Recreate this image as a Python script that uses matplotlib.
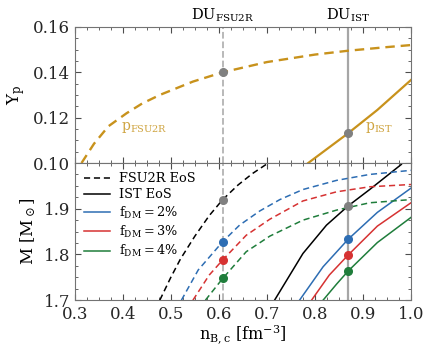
"""Proton fraction and NS mass vs central baryon density, FSU2R vs IST EoS with DM fractions."""

import matplotlib

matplotlib.use("Agg")
import matplotlib.pyplot as plt
from matplotlib.ticker import AutoMinorLocator, MultipleLocator

plt.rcParams["font.family"] = ["DejaVu Serif"]
plt.rcParams["mathtext.fontset"] = "dejavuserif"

# DU thresholds (central density)
du_fsu2r = 0.608
du_ist = 0.869

# top panel: proton fraction
n_yp_fsu2r = [0.314, 0.34, 0.37, 0.4075, 0.44, 0.477, 0.546, 0.608, 0.70, 0.80, 0.869, 0.95, 1.0]
yp_fsu2r = [0.100, 0.1085, 0.1162, 0.1219, 0.1262, 0.130, 0.1359, 0.140, 0.1445, 0.1478, 0.1495, 0.1511, 0.152]
n_yp_ist = [0.786, 0.869, 0.93, 1.0]
yp_ist = [0.100, 0.1131, 0.1234, 0.1366]

# bottom panel: mass vs central density
n_fsu2r = [0.477, 0.50, 0.52, 0.55, 0.58, 0.608, 0.64, 0.67, 0.70, 0.705]
m_fsu2r = [1.70, 1.75, 1.79, 1.84, 1.885, 1.92, 1.952, 1.977, 1.998, 2.002]
n_fsu2r_2 = [0.522, 0.557, 0.608, 0.643, 0.685, 0.727, 0.775, 0.845, 0.914, 1.0]
m_fsu2r_2 = [1.70, 1.766, 1.828, 1.864, 1.895, 1.92, 1.942, 1.962, 1.975, 1.984]
n_fsu2r_3 = [0.546, 0.58, 0.608, 0.657, 0.706, 0.775, 0.845, 0.914, 1.0]
m_fsu2r_3 = [1.70, 1.755, 1.788, 1.842, 1.877, 1.917, 1.937, 1.948, 1.953]
n_fsu2r_4 = [0.572, 0.608, 0.657, 0.706, 0.775, 0.845, 0.914, 1.0]
m_fsu2r_4 = [1.70, 1.7475, 1.806, 1.840, 1.875, 1.897, 1.913, 1.920]

n_ist = [0.716, 0.775, 0.824, 0.869, 0.914, 0.95, 0.98]
m_ist = [1.70, 1.802, 1.864, 1.906, 1.942, 1.972, 1.997]
n_ist_2 = [0.768, 0.817, 0.869, 0.93, 1.0]
m_ist_2 = [1.70, 1.773, 1.833, 1.892, 1.945]
n_ist_3 = [0.793, 0.83, 0.869, 0.93, 1.0]
m_ist_3 = [1.70, 1.755, 1.7985, 1.862, 1.913]
n_ist_4 = [0.817, 0.845, 0.869, 0.93, 1.0]
m_ist_4 = [1.70, 1.735, 1.7635, 1.826, 1.881]

# masses at DU threshold
m_du_fsu2r = [1.920, 1.828, 1.788, 1.7475]
m_du_ist = [1.906, 1.833, 1.7985, 1.7635]
yp_du = [0.140, 0.1131]

gold = "#c8921c"
gold_text = "#cfa440"
colors = ["#2d6db3", "#d63232", "#1f7d3b"]

fig = plt.figure(figsize=(4.25, 3.45), dpi=100)
ax_top = fig.add_axes([0.176, 0.5275, 0.791, 0.3945])
ax_bot = fig.add_axes([0.176, 0.130, 0.791, 0.3975], sharex=ax_top)

# top panel
ax_top.plot(n_yp_fsu2r, yp_fsu2r, color=gold, lw=1.7, ls=(0, (4, 2.5)))
ax_top.plot(n_yp_ist, yp_ist, color=gold, lw=1.6)
ax_top.axvline(du_fsu2r, color="0.7", lw=1.3, ls="--", zorder=0)
ax_top.axvline(du_ist, color="0.65", lw=1.6, zorder=0)
ax_top.plot([du_fsu2r, du_ist], yp_du, "o", color="0.5", ms=5.5, zorder=5)
ax_top.text(0.445, 0.1158, r"$\mathrm{p}_{\mathrm{FSU2R}}$", color=gold_text, fontsize=10, ha="center", va="center")
ax_top.text(0.933, 0.1158, r"$\mathrm{p}_{\mathrm{IST}}$", color=gold_text, fontsize=10, ha="center", va="center")
ax_top.text(du_fsu2r, 1.02, r"$\mathrm{DU}_{\mathrm{FSU2R}}$", transform=ax_top.get_xaxis_transform(),
            ha="center", va="bottom", fontsize=10.5)
ax_top.text(du_ist, 1.02, r"$\mathrm{DU}_{\mathrm{IST}}$", transform=ax_top.get_xaxis_transform(),
            ha="center", va="bottom", fontsize=10.5)
ax_top.set_ylim(0.10, 0.16)
ax_top.yaxis.set_major_locator(MultipleLocator(0.02))
ax_top.set_ylabel(r"$\mathrm{Y_p}$", fontsize=12)
ax_top.tick_params(labelbottom=False)

# bottom panel
ax_bot.axvline(du_fsu2r, color="0.7", lw=1.3, ls="--", zorder=0)
ax_bot.axvline(du_ist, color="0.65", lw=1.6, zorder=0)
dash = (0, (4, 2.5))
ax_bot.plot(n_fsu2r, m_fsu2r, color="k", lw=1.1, ls=dash, label="FSU2R EoS")
ax_bot.plot(n_ist, m_ist, color="k", lw=1.1, label="IST EoS")
fsu_sets = [(n_fsu2r_2, m_fsu2r_2), (n_fsu2r_3, m_fsu2r_3), (n_fsu2r_4, m_fsu2r_4)]
ist_sets = [(n_ist_2, m_ist_2), (n_ist_3, m_ist_3), (n_ist_4, m_ist_4)]
labels = [r"$\mathrm{f_{DM}=2\%}$", r"$\mathrm{f_{DM}=3\%}$", r"$\mathrm{f_{DM}=4\%}$"]
for (nf, mf), (ni, mi), c, lab in zip(fsu_sets, ist_sets, colors, labels):
    ax_bot.plot(nf, mf, color=c, lw=1.1, ls=dash)
    ax_bot.plot(ni, mi, color=c, lw=1.1, label=lab)

ax_bot.plot([du_fsu2r, du_ist], [m_du_fsu2r[0], m_du_ist[0]], "o", color="0.5", ms=5.5, zorder=5)
for i, c in enumerate(colors):
    ax_bot.plot([du_fsu2r, du_ist], [m_du_fsu2r[i + 1], m_du_ist[i + 1]], "o", color=c, ms=5.5, zorder=5)

ax_bot.set_xlim(0.3, 1.0)
ax_bot.set_ylim(1.7, 2.0)
ax_bot.set_yticks([1.7, 1.8, 1.9])
ax_bot.xaxis.set_major_locator(MultipleLocator(0.1))
ax_bot.set_xlabel(r"$\mathrm{n_{B,c}\ [fm^{-3}]}$", fontsize=11.5, labelpad=0)
ax_bot.set_ylabel(r"$\mathrm{M\ [M_\odot]}$", fontsize=12)
ax_bot.legend(loc="upper left", frameon=False, fontsize=9.3, handlelength=2.0,
              borderaxespad=0.3, labelspacing=0.25, handletextpad=0.7)

for ax in (ax_top, ax_bot):
    ax.xaxis.set_minor_locator(AutoMinorLocator(4))
    ax.yaxis.set_minor_locator(AutoMinorLocator(4))
    ax.tick_params(which="both", direction="in", top=True, right=True, colors="0.3", labelcolor="0.15")
    ax.tick_params(which="major", length=4, labelsize=12)
    ax.tick_params(which="minor", length=2)
    for s in ax.spines.values():
        s.set_color("0.45")
ax_bot.tick_params(axis="x", which="major", pad=4.5)

fig.savefig("out.png", dpi=100)
